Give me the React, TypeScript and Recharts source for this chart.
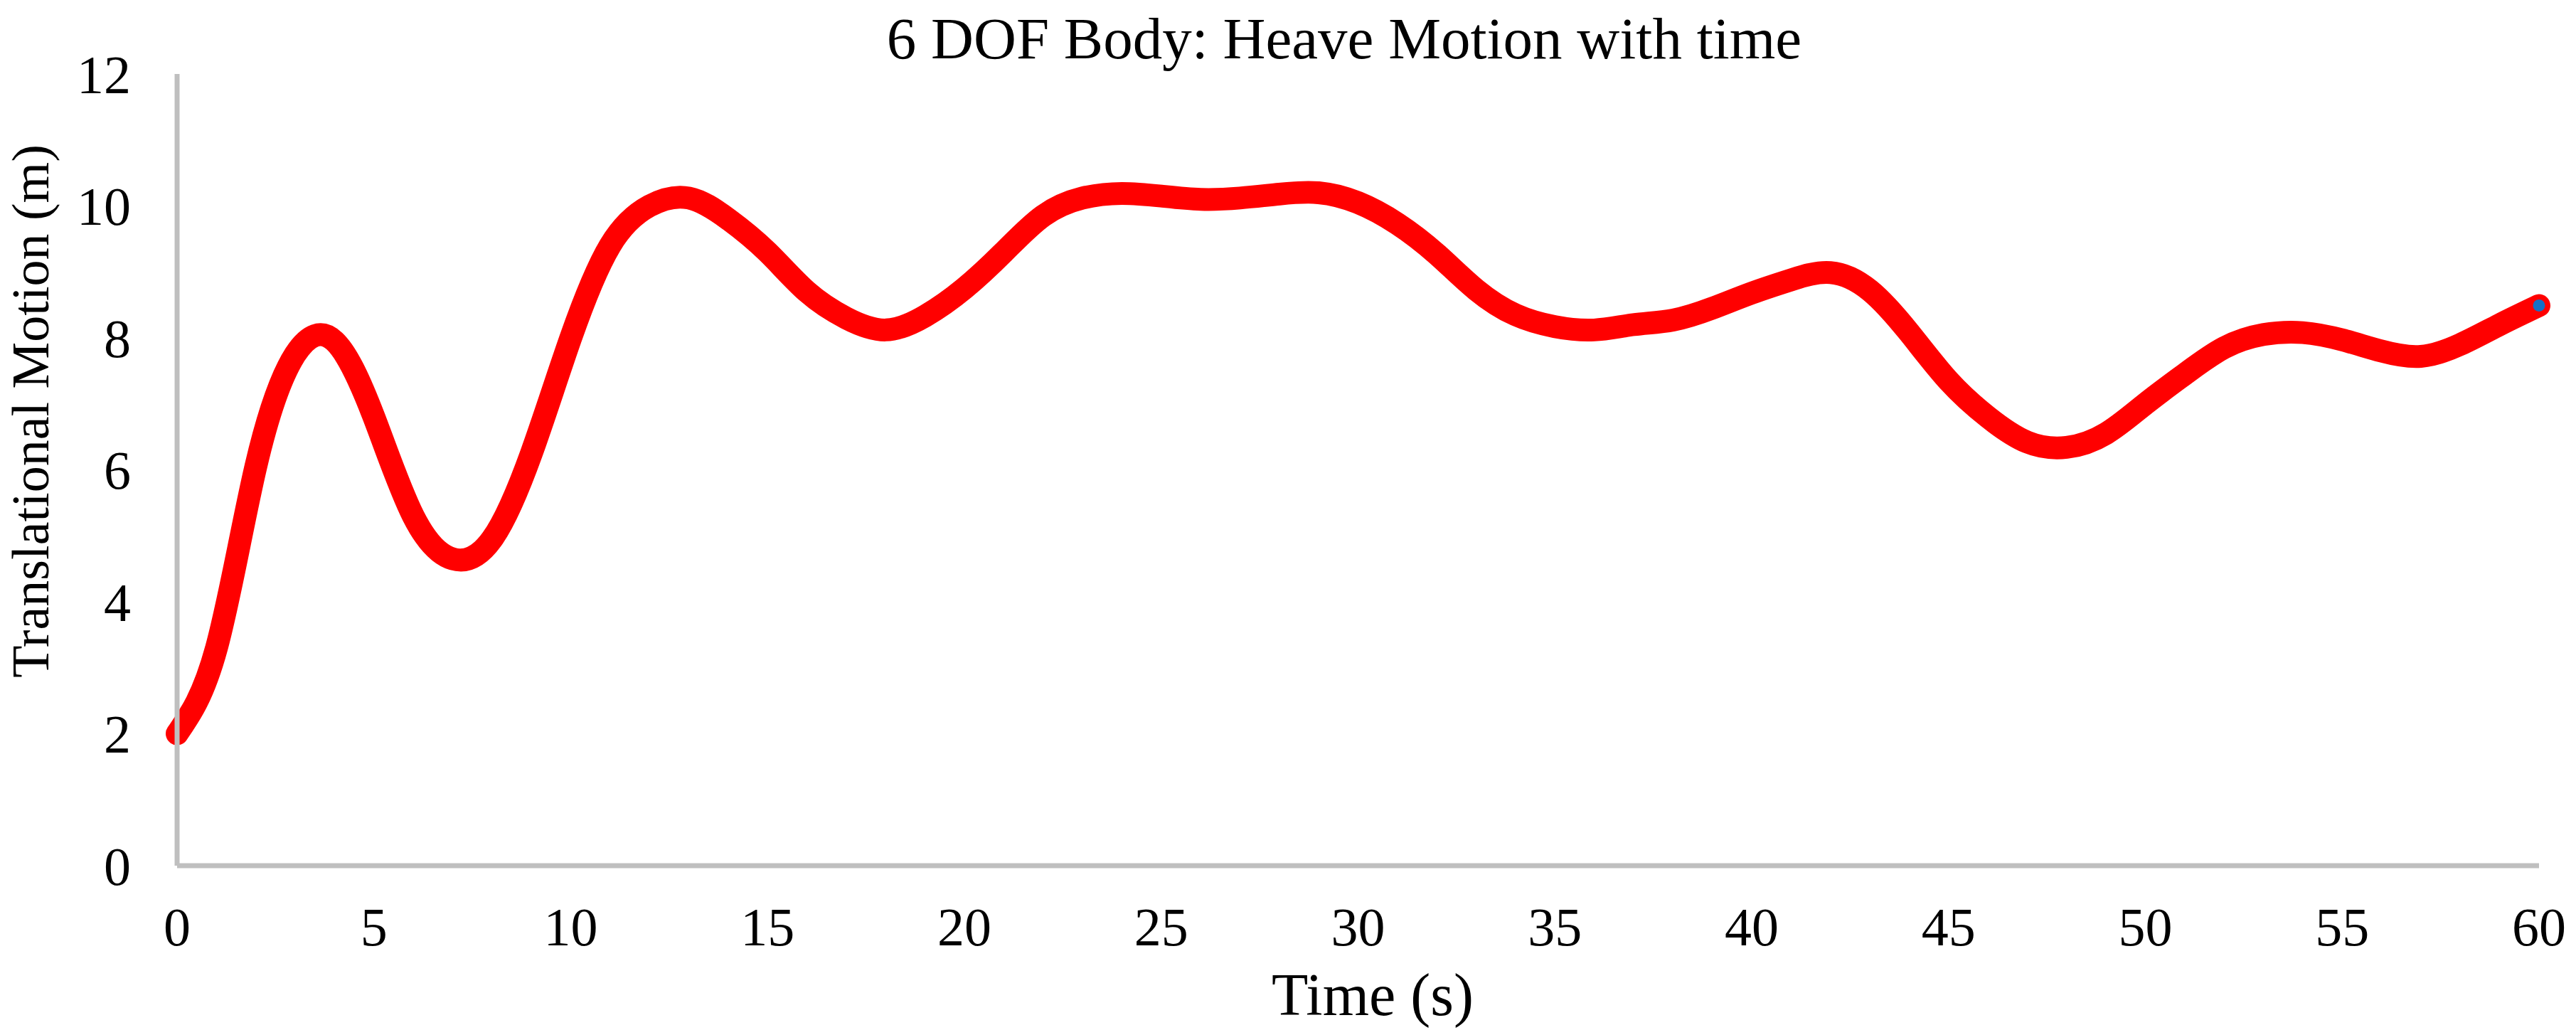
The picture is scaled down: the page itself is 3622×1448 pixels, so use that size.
import { LineChart, Line, XAxis, YAxis } from 'recharts';

// heave motion, one sample per second
const timeS = [
  0, 1, 2, 3, 4, 5, 6, 7, 8, 9, 10, 11, 12, 13, 14, 15, 16, 17, 18, 19, 20, 21, 22, 23, 24,
  25, 26, 27, 28, 29, 30, 31, 32, 33, 34, 35, 36, 37, 38, 39, 40, 41, 42, 43, 44, 45, 46,
  47, 48, 49, 50, 51, 52, 53, 54, 55, 56, 57, 58, 59, 60,
];
const heaveM = [
  2.0, 3.3, 6.05, 7.75, 7.95, 6.8, 5.3, 4.65, 4.95, 6.25, 8.0, 9.4, 10.0, 10.12, 9.8, 9.3,
  8.7, 8.3, 8.12, 8.33, 8.75, 9.3, 9.85, 10.12, 10.19, 10.15, 10.1, 10.12, 10.18, 10.2,
  10.05, 9.73, 9.27, 8.73, 8.35, 8.17, 8.12, 8.2, 8.27, 8.45, 8.68, 8.88, 8.99, 8.72, 8.08,
  7.35, 6.8, 6.42, 6.34, 6.55, 7.0, 7.45, 7.85, 8.05, 8.08, 7.97, 7.8, 7.72, 7.9, 8.2, 8.49,
];
const xTicks = [0, 5, 10, 15, 20, 25, 30, 35, 40, 45, 50, 55, 60];
const yTicks = [0, 2, 4, 6, 8, 10, 12];

const data = timeS.map((t, i) => ({ t, heave: heaveM[i] }));

const FONT = '"Liberation Serif", "Times New Roman", serif';
const tickStyle = { fill: '#000', fontSize: 76, fontFamily: FONT };

function EndDot(props: { cx?: number; cy?: number; index?: number }) {
  const { cx, cy, index } = props;
  if (index !== data.length - 1 || cx == null || cy == null) return <g key={`d-${index}`} />;
  return <circle key={`d-${index}`} cx={cx} cy={cy} r={8.5} fill="#1570C6" />;
}

export default function App() {
  return (
    <div style={{ position: 'relative', width: 3622, height: 1448, background: '#fff' }}>
      <style>{`body{margin:0;}`}</style>
      <LineChart
        width={3622}
        height={1448}
        data={data}
        margin={{ top: 104, right: 52, left: 0, bottom: 0 }}
      >
        <XAxis
          type="number"
          dataKey="t"
          domain={[0, 60]}
          ticks={xTicks}
          height={231}
          tick={tickStyle}
          tickLine={false}
          tickSize={0}
          tickMargin={58}
          axisLine={{ stroke: '#BFBFBF', strokeWidth: 7 }}
        />
        <YAxis
          type="number"
          domain={[0, 12]}
          ticks={yTicks}
          width={249}
          tick={tickStyle}
          tickLine={false}
          tickSize={0}
          tickMargin={65}
          axisLine={{ stroke: '#BFBFBF', strokeWidth: 7 }}
        />
        <Line
          type="natural"
          dataKey="heave"
          stroke="#FF0000"
          strokeWidth={32}
          strokeLinecap="round"
          strokeLinejoin="round"
          dot={EndDot}
          activeDot={false}
          isAnimationActive={false}
        />
      </LineChart>
      <svg
        width={3622}
        height={1448}
        style={{ position: 'absolute', left: 0, top: 0, pointerEvents: 'none' }}
      >
        <text x={1890} y={82} textAnchor="middle" fontSize={83} fontFamily={FONT} fill="#000">
          6 DOF Body: Heave Motion with time
        </text>
        <text x={1930} y={1427} textAnchor="middle" fontSize={84} fontFamily={FONT} fill="#000">
          Time (s)
        </text>
        <text
          x={68}
          y={578}
          textAnchor="middle"
          fontSize={74}
          fontFamily={FONT}
          fill="#000"
          transform="rotate(-90, 68, 578)"
        >
          Translational Motion (m)
        </text>
      </svg>
    </div>
  );
}
